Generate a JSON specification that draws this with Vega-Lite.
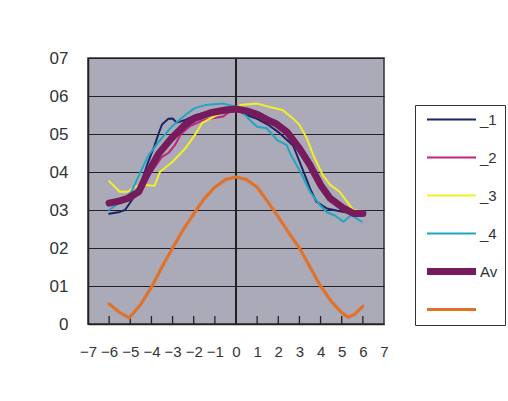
{
  "$schema": "https://vega.github.io/schema/vega-lite/v6.json",
  "autosize": "none",
  "width": 296,
  "height": 266,
  "padding": {"left": 88, "top": 58, "right": 124, "bottom": 77},
  "background": "white",
  "config": {
    "font": "Liberation Sans",
    "view": {"fill": "#abaab9", "stroke": "#333333", "strokeWidth": 1.5},
    "axisX": {"title": null, "grid": false, "domainColor": "#222222", "domainWidth": 1.5, "ticks": false, "labelFontSize": 15, "labelColor": "#333333", "labelPadding": 20, "labelOverlap": false, "labelSeparation": 0, "labelFlush": false},
    "axisY": {"title": null, "grid": true, "gridColor": "#222222", "gridWidth": 1.2, "gridOpacity": 1, "domainColor": "#222222", "domainWidth": 1.5, "ticks": false, "labelFontSize": 17, "labelColor": "#333333", "labelPadding": 20, "labelOverlap": false}
  },
  "datasets": {
    "curves": [
      {"s": "_1", "x": -6, "y": 0.29}, {"s": "_1", "x": -5.5, "y": 0.295}, {"s": "_1", "x": -5.25, "y": 0.3}, {"s": "_1", "x": -4.75, "y": 0.34}, {"s": "_1", "x": -4.5, "y": 0.37}, {"s": "_1", "x": -4.15, "y": 0.427}, {"s": "_1", "x": -3.85, "y": 0.47}, {"s": "_1", "x": -3.67, "y": 0.5}, {"s": "_1", "x": -3.5, "y": 0.525}, {"s": "_1", "x": -3.2, "y": 0.54}, {"s": "_1", "x": -3.0, "y": 0.541}, {"s": "_1", "x": -2.8, "y": 0.53}, {"s": "_1", "x": -2.4, "y": 0.537}, {"s": "_1", "x": -1.9, "y": 0.55}, {"s": "_1", "x": -1.5, "y": 0.555}, {"s": "_1", "x": -1, "y": 0.56}, {"s": "_1", "x": -0.5, "y": 0.562}, {"s": "_1", "x": 0, "y": 0.565}, {"s": "_1", "x": 0.5, "y": 0.55}, {"s": "_1", "x": 1, "y": 0.54}, {"s": "_1", "x": 1.5, "y": 0.525}, {"s": "_1", "x": 2, "y": 0.505}, {"s": "_1", "x": 2.4, "y": 0.485}, {"s": "_1", "x": 2.7, "y": 0.47}, {"s": "_1", "x": 3.2, "y": 0.4}, {"s": "_1", "x": 3.5, "y": 0.357}, {"s": "_1", "x": 3.8, "y": 0.322}, {"s": "_1", "x": 4.3, "y": 0.304}, {"s": "_1", "x": 4.8, "y": 0.298}, {"s": "_1", "x": 5.3, "y": 0.293}, {"s": "_1", "x": 5.6, "y": 0.29}, {"s": "_1", "x": 6, "y": 0.293},

      {"s": "_2", "x": -6, "y": 0.315}, {"s": "_2", "x": -5.5, "y": 0.325}, {"s": "_2", "x": -5, "y": 0.335}, {"s": "_2", "x": -4.5, "y": 0.36}, {"s": "_2", "x": -4, "y": 0.4}, {"s": "_2", "x": -3.5, "y": 0.44}, {"s": "_2", "x": -3.2, "y": 0.45}, {"s": "_2", "x": -2.9, "y": 0.47}, {"s": "_2", "x": -2.6, "y": 0.5}, {"s": "_2", "x": -2.2, "y": 0.52}, {"s": "_2", "x": -1.6, "y": 0.535}, {"s": "_2", "x": -1.2, "y": 0.541}, {"s": "_2", "x": -0.6, "y": 0.546}, {"s": "_2", "x": -0.3, "y": 0.559}, {"s": "_2", "x": 0, "y": 0.56}, {"s": "_2", "x": 0.5, "y": 0.555}, {"s": "_2", "x": 1, "y": 0.545}, {"s": "_2", "x": 1.5, "y": 0.535}, {"s": "_2", "x": 2, "y": 0.515}, {"s": "_2", "x": 2.5, "y": 0.495}, {"s": "_2", "x": 3, "y": 0.46}, {"s": "_2", "x": 3.5, "y": 0.415}, {"s": "_2", "x": 4, "y": 0.37}, {"s": "_2", "x": 4.5, "y": 0.335}, {"s": "_2", "x": 5, "y": 0.31}, {"s": "_2", "x": 5.5, "y": 0.295}, {"s": "_2", "x": 6, "y": 0.29},

      {"s": "_3", "x": -6, "y": 0.376}, {"s": "_3", "x": -5.5, "y": 0.348}, {"s": "_3", "x": -5.1, "y": 0.348}, {"s": "_3", "x": -4.8, "y": 0.361}, {"s": "_3", "x": -4.3, "y": 0.366}, {"s": "_3", "x": -3.85, "y": 0.364}, {"s": "_3", "x": -3.6, "y": 0.4}, {"s": "_3", "x": -3.0, "y": 0.427}, {"s": "_3", "x": -2.4, "y": 0.462}, {"s": "_3", "x": -1.95, "y": 0.497}, {"s": "_3", "x": -1.6, "y": 0.529}, {"s": "_3", "x": -0.9, "y": 0.55}, {"s": "_3", "x": -0.3, "y": 0.563}, {"s": "_3", "x": 0.2, "y": 0.576}, {"s": "_3", "x": 1.0, "y": 0.58}, {"s": "_3", "x": 1.6, "y": 0.571}, {"s": "_3", "x": 2.2, "y": 0.563}, {"s": "_3", "x": 2.7, "y": 0.541}, {"s": "_3", "x": 3.0, "y": 0.524}, {"s": "_3", "x": 3.35, "y": 0.489}, {"s": "_3", "x": 3.65, "y": 0.445}, {"s": "_3", "x": 4.1, "y": 0.392}, {"s": "_3", "x": 4.45, "y": 0.366}, {"s": "_3", "x": 4.9, "y": 0.348}, {"s": "_3", "x": 5.25, "y": 0.322}, {"s": "_3", "x": 5.55, "y": 0.3}, {"s": "_3", "x": 6, "y": 0.296},

      {"s": "_4", "x": -6, "y": 0.3}, {"s": "_4", "x": -5.5, "y": 0.32}, {"s": "_4", "x": -4.95, "y": 0.348}, {"s": "_4", "x": -4.6, "y": 0.39}, {"s": "_4", "x": -4.15, "y": 0.443}, {"s": "_4", "x": -3.65, "y": 0.48}, {"s": "_4", "x": -3.05, "y": 0.519}, {"s": "_4", "x": -2.4, "y": 0.55}, {"s": "_4", "x": -1.95, "y": 0.568}, {"s": "_4", "x": -1.45, "y": 0.576}, {"s": "_4", "x": -0.6, "y": 0.58}, {"s": "_4", "x": 0, "y": 0.572}, {"s": "_4", "x": 0.35, "y": 0.555}, {"s": "_4", "x": 0.65, "y": 0.537}, {"s": "_4", "x": 1.0, "y": 0.519}, {"s": "_4", "x": 1.45, "y": 0.515}, {"s": "_4", "x": 1.6, "y": 0.506}, {"s": "_4", "x": 1.95, "y": 0.484}, {"s": "_4", "x": 2.4, "y": 0.471}, {"s": "_4", "x": 2.55, "y": 0.45}, {"s": "_4", "x": 3.05, "y": 0.4}, {"s": "_4", "x": 3.5, "y": 0.348}, {"s": "_4", "x": 3.97, "y": 0.313}, {"s": "_4", "x": 4.3, "y": 0.294}, {"s": "_4", "x": 4.7, "y": 0.285}, {"s": "_4", "x": 5.08, "y": 0.269}, {"s": "_4", "x": 5.45, "y": 0.287}, {"s": "_4", "x": 5.95, "y": 0.269},

      {"s": "Av", "x": -6, "y": 0.318}, {"s": "Av", "x": -5.5, "y": 0.324}, {"s": "Av", "x": -5.1, "y": 0.331}, {"s": "Av", "x": -4.6, "y": 0.348}, {"s": "Av", "x": -4.15, "y": 0.4}, {"s": "Av", "x": -3.65, "y": 0.449}, {"s": "Av", "x": -3.05, "y": 0.489}, {"s": "Av", "x": -2.4, "y": 0.525}, {"s": "Av", "x": -2.0, "y": 0.54}, {"s": "Av", "x": -1.6, "y": 0.548}, {"s": "Av", "x": -1.2, "y": 0.556}, {"s": "Av", "x": -0.5, "y": 0.563}, {"s": "Av", "x": 0, "y": 0.566}, {"s": "Av", "x": 0.5, "y": 0.561}, {"s": "Av", "x": 1.0, "y": 0.552}, {"s": "Av", "x": 1.6, "y": 0.534}, {"s": "Av", "x": 1.9, "y": 0.527}, {"s": "Av", "x": 2.4, "y": 0.506}, {"s": "Av", "x": 3.0, "y": 0.462}, {"s": "Av", "x": 3.5, "y": 0.418}, {"s": "Av", "x": 4.0, "y": 0.366}, {"s": "Av", "x": 4.45, "y": 0.331}, {"s": "Av", "x": 5.1, "y": 0.304}, {"s": "Av", "x": 5.55, "y": 0.291}, {"s": "Av", "x": 6, "y": 0.291},

      {"s": "Sin", "x": -6, "y": 0.053}, {"s": "Sin", "x": -5.5, "y": 0.03}, {"s": "Sin", "x": -5.05, "y": 0.016}, {"s": "Sin", "x": -4.5, "y": 0.052}, {"s": "Sin", "x": -4, "y": 0.097}, {"s": "Sin", "x": -3.5, "y": 0.15}, {"s": "Sin", "x": -3, "y": 0.2}, {"s": "Sin", "x": -2.5, "y": 0.248}, {"s": "Sin", "x": -2, "y": 0.29}, {"s": "Sin", "x": -1.5, "y": 0.33}, {"s": "Sin", "x": -1, "y": 0.36}, {"s": "Sin", "x": -0.5, "y": 0.38}, {"s": "Sin", "x": 0, "y": 0.387}, {"s": "Sin", "x": 0.5, "y": 0.38}, {"s": "Sin", "x": 1, "y": 0.36}, {"s": "Sin", "x": 1.5, "y": 0.322}, {"s": "Sin", "x": 2, "y": 0.282}, {"s": "Sin", "x": 2.5, "y": 0.24}, {"s": "Sin", "x": 3, "y": 0.2}, {"s": "Sin", "x": 3.5, "y": 0.15}, {"s": "Sin", "x": 4, "y": 0.1}, {"s": "Sin", "x": 4.5, "y": 0.06}, {"s": "Sin", "x": 5, "y": 0.03}, {"s": "Sin", "x": 5.3, "y": 0.018}, {"s": "Sin", "x": 5.6, "y": 0.025}, {"s": "Sin", "x": 6, "y": 0.047}
    ],
    "xticks": [
      {"t": -6}, {"t": -5}, {"t": -4}, {"t": -3}, {"t": -2}, {"t": -1}, {"t": 1}, {"t": 2}, {"t": 3}, {"t": 4}, {"t": 5}, {"t": 6}
    ]
  },
  "layer": [
    {
      "data": {"name": "xticks"},
      "mark": {"type": "rule", "color": "#222222", "strokeWidth": 1.3},
      "encoding": {
        "x": {"field": "t", "type": "quantitative",
          "scale": {"domain": [-7, 7], "nice": false, "zero": false},
          "axis": {"values": [-7, -6, -5, -4, -3, -2, -1, 0, 1, 2, 3, 4, 5, 6, 7], "format": "d"}},
        "y": {"datum": 0, "type": "quantitative",
          "scale": {"domain": [0, 0.7], "nice": false},
          "axis": {"values": [0, 0.1, 0.2, 0.3, 0.4, 0.5, 0.6, 0.7], "labelExpr": "datum.value == 0 ? '0' : '0' + round(datum.value * 10)"}},
        "y2": {"datum": 0.021}
      }
    },
    {
      "data": {"name": "curves"},
      "mark": {"type": "rule", "color": "#222222", "strokeWidth": 1.2},
      "encoding": {
        "x": {"datum": 0, "type": "quantitative",
          "axis": {"values": [-7, -6, -5, -4, -3, -2, -1, 0, 1, 2, 3, 4, 5, 6, 7], "format": "d"}}
      }
    },
    {
      "data": {"name": "curves"},
      "mark": {"type": "line", "interpolate": "linear", "strokeJoin": "round", "strokeCap": "round"},
      "encoding": {
        "x": {
          "field": "x", "type": "quantitative",
          "axis": {"values": [-7, -6, -5, -4, -3, -2, -1, 0, 1, 2, 3, 4, 5, 6, 7], "format": "d"}
        },
        "y": {
          "field": "y", "type": "quantitative",
          "axis": {"values": [0, 0.1, 0.2, 0.3, 0.4, 0.5, 0.6, 0.7], "labelExpr": "datum.value == 0 ? '0' : '0' + round(datum.value * 10)"}
        },
        "color": {
          "field": "s", "type": "nominal",
          "scale": {"domain": ["_1", "_2", "_3", "_4", "Av", "Sin"], "range": ["#1c2366", "#c4207e", "#f4ef22", "#1fa6c4", "#761c5c", "#e0722a"]},
          "legend": {
            "title": null, "orient": "none", "legendX": 327, "legendY": 47,
            "symbolType": "M-1.3,0H1.3", "symbolSize": 1420, "symbolOffset": 22,
            "labelExpr": "datum.label == 'Sin' ? '' : datum.label",
            "labelFontSize": 15, "labelColor": "#333333", "labelOffset": 21,
            "gridAlign": "all", "rowPadding": 9, "padding": 7,
            "strokeColor": "#333333", "fillColor": "white",
            "encode": {
              "symbols": {"update": {"strokeWidth": {"signal": "datum.value == 'Av' ? 7 : (datum.value == 'Sin' ? 3.2 : 2)"}}}
            }
          }
        },
        "strokeWidth": {
          "condition": [
            {"test": "datum.s == 'Av'", "value": 7},
            {"test": "datum.s == 'Sin'", "value": 3.2}
          ],
          "value": 2
        }
      }
    }
  ]
}
